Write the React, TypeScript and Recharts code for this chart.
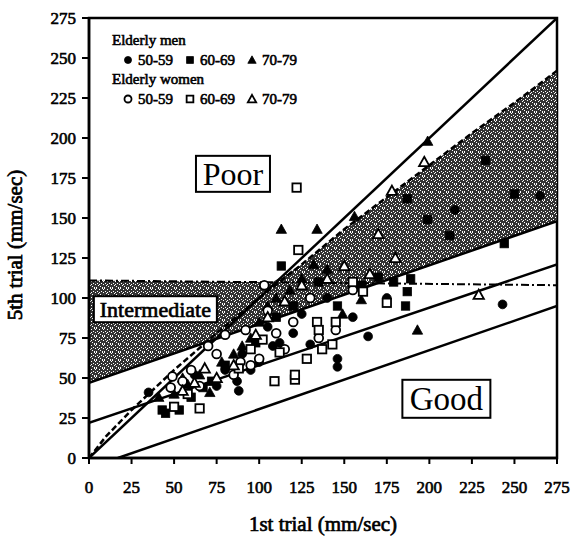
import React from "react"
import {
  ComposedChart,
  XAxis,
  YAxis,
  Scatter,
  Line,
  Area,
  ReferenceArea,
  ReferenceDot,
  Label,
  Legend,
} from "recharts"

const FONT = '"Liberation Serif", "Times New Roman", Times, serif'

const ticks = [0, 25, 50, 75, 100, 125, 150, 175, 200, 225, 250, 275]

// men
const men5059 = [
  { x: 35, y: 41 }, { x: 62, y: 52 }, { x: 75, y: 45 }, { x: 87, y: 48 }, { x: 88, y: 42 },
  { x: 95, y: 55 }, { x: 100, y: 60 }, { x: 108, y: 70 }, { x: 112, y: 72 }, { x: 120, y: 78 },
  { x: 130, y: 71 }, { x: 146, y: 62 }, { x: 146, y: 57 }, { x: 164, y: 76 }, { x: 175, y: 100 },
  { x: 243, y: 96 }, { x: 265, y: 164 }, { x: 215, y: 155 }, { x: 140, y: 100 }, { x: 125, y: 90 },
  { x: 90, y: 65 }, { x: 80, y: 55 }, { x: 105, y: 82 }, { x: 155, y: 88 },
]
const men6069 = [
  { x: 43, y: 30 }, { x: 53, y: 30 }, { x: 45, y: 28 }, { x: 60, y: 38 }, { x: 67, y: 44 },
  { x: 72, y: 48 }, { x: 80, y: 58 }, { x: 98, y: 72 }, { x: 110, y: 88 }, { x: 120, y: 95 },
  { x: 146, y: 95 }, { x: 186, y: 95 }, { x: 187, y: 104 }, { x: 189, y: 112 }, { x: 179, y: 110 },
  { x: 199, y: 149 }, { x: 187, y: 162 }, { x: 212, y: 139 }, { x: 233, y: 186 }, { x: 250, y: 165 },
  { x: 244, y: 134 }, { x: 135, y: 110 }, { x: 160, y: 108 }, { x: 170, y: 113 }, { x: 113, y: 120 },
]
const men7079 = [
  { x: 41, y: 38 }, { x: 50, y: 40 }, { x: 58, y: 46 }, { x: 65, y: 52 }, { x: 71, y: 41 },
  { x: 78, y: 60 }, { x: 85, y: 65 }, { x: 95, y: 75 }, { x: 100, y: 85 }, { x: 105, y: 95 },
  { x: 113, y: 143 }, { x: 134, y: 143 }, { x: 156, y: 151 }, { x: 199, y: 198 }, { x: 132, y: 121 },
  { x: 149, y: 90 }, { x: 160, y: 99 }, { x: 193, y: 80 }, { x: 118, y: 105 }, { x: 125, y: 112 },
  { x: 140, y: 118 }, { x: 110, y: 100 }, { x: 90, y: 70 }, { x: 55, y: 50 },
]
// women
const women5059 = [
  { x: 49, y: 51 }, { x: 55, y: 48 }, { x: 65, y: 45 }, { x: 70, y: 70 }, { x: 80, y: 77 },
  { x: 89, y: 60 }, { x: 75, y: 65 }, { x: 85, y: 52 }, { x: 95, y: 58 }, { x: 100, y: 62 },
  { x: 110, y: 78 }, { x: 115, y: 68 }, { x: 120, y: 85 }, { x: 105, y: 92 }, { x: 130, y: 100 },
  { x: 135, y: 75 }, { x: 145, y: 80 }, { x: 155, y: 105 }, { x: 48, y: 44 }, { x: 60, y: 55 },
  { x: 103, y: 108 }, { x: 92, y: 80 },
]
const women6069 = [
  { x: 65, y: 31 }, { x: 109, y: 48 }, { x: 121, y: 49 }, { x: 121, y: 52 }, { x: 102, y: 74 },
  { x: 123, y: 130 }, { x: 122, y: 169 }, { x: 134, y: 85 }, { x: 135, y: 80 }, { x: 137, y: 68 },
  { x: 143, y: 71 }, { x: 161, y: 104 }, { x: 175, y: 97 }, { x: 145, y: 85 }, { x: 155, y: 110 },
  { x: 95, y: 68 }, { x: 88, y: 56 }, { x: 50, y: 32 }, { x: 58, y: 40 }, { x: 112, y: 66 },
  { x: 128, y: 62 },
]
const women7079 = [
  { x: 178, y: 167 }, { x: 229, y: 102 }, { x: 197, y: 185 }, { x: 55, y: 42 }, { x: 62, y: 47 },
  { x: 68, y: 56 }, { x: 75, y: 50 }, { x: 85, y: 58 }, { x: 98, y: 77 }, { x: 105, y: 88 },
  { x: 115, y: 98 }, { x: 125, y: 108 }, { x: 140, y: 112 }, { x: 150, y: 120 }, { x: 165, y: 115 },
  { x: 170, y: 140 }, { x: 180, y: 125 },
]

// reference lines (read endpoints)
const identityLine = [{ x: 0, y: 0 }, { x: 275, y: 275 }]
const upperLine = [{ x: 0, y: 47 }, { x: 275, y: 148 }]
const midLine = [{ x: 0, y: 22 }, { x: 275, y: 121 }]
const lowLine = [{ x: 17, y: 0 }, { x: 275, y: 95 }]
const dashDotLine = [{ x: 0, y: 111 }, { x: 275, y: 108 }]
const dashedCurve = [
  { x: 0, y: 0 }, { x: 10, y: 13.5 }, { x: 25, y: 30 }, { x: 50, y: 55 }, { x: 75, y: 78 },
  { x: 100, y: 100 }, { x: 125, y: 121 }, { x: 150, y: 143 }, { x: 175, y: 163 },
  { x: 200, y: 183 }, { x: 225, y: 203 }, { x: 250, y: 222 }, { x: 275, y: 242 },
]

// shaded band
const bandX = [0, 25, 50, 75, 100, 108, 125, 150, 175, 200, 225, 250, 275]
const bandLow = [47, 56, 65.5, 74.5, 84, 86.5, 93, 102, 111, 120.5, 129.5, 139, 148]
const bandHigh = [111, 110.7, 110.5, 110.2, 110, 110, 121, 143, 163, 183, 203, 222, 242]
const band = bandX.map((x, i) => ({ x, band: [bandLow[i], bandHigh[i]] }))

// speckles for the stipple pattern
const speckles = [
  [0, 0], [3, 1], [6, 0], [1, 3], [5, 3], [7, 4], [2, 5], [4, 6], [0, 7], [6, 7], [3, 4], [7, 1],
]

type Kind = "circle" | "square" | "triangle"

function drawMarker(kind: Kind, filled: boolean, cx: number, cy: number, s = 1) {
  const fill = filled ? "#000" : "#fff"
  const sw = filled ? 0.8 : 1.8
  if (kind === "circle") return <circle cx={cx} cy={cy} r={4.4 * s} fill={fill} stroke="#000" strokeWidth={sw} />
  if (kind === "square")
    return <rect x={cx - 4.2 * s} y={cy - 4.2 * s} width={8.4 * s} height={8.4 * s} fill={fill} stroke="#000" strokeWidth={sw} />
  const h = 5.2 * s
  return (
    <polygon
      points={`${cx},${cy - h} ${cx + h},${cy + h * 0.8} ${cx - h},${cy + h * 0.8}`}
      fill={fill}
      stroke="#000"
      strokeWidth={sw}
    />
  )
}

const shape = (kind: Kind, filled: boolean) => (p: any) => drawMarker(kind, filled, p.cx, p.cy)

// serif text, thickened with a thin stroke
const boldText = { fontFamily: FONT, fontWeight: "normal", stroke: "#000", strokeWidth: 0.7, fill: "#000" }

const BoxText = (text: string, w: number, h: number, size: number, bold: boolean) => (p: any) => (
  <g>
    <rect x={p.cx - w / 2} y={p.cy - h / 2} width={w} height={h} fill="#fff" stroke="#000" strokeWidth={2} />
    <text
      x={p.cx}
      y={p.cy}
      textAnchor="middle"
      dominantBaseline="central"
      fontSize={size}
      style={bold ? boldText : { fontFamily: FONT }}
      fill="#000"
    >
      {text}
    </text>
  </g>
)

const legendRow = (filled: boolean) => (
  <div style={{ display: "flex", alignItems: "center", height: 19, paddingLeft: 10 }}>
    {(["circle", "square", "triangle"] as Kind[]).map((k, i) => (
      <span key={k} style={{ display: "flex", alignItems: "center", marginRight: 11 }}>
        <svg width={12} height={12}>{drawMarker(k, filled, 6, 6, 0.8)}</svg>
        <span style={{ marginLeft: 4 }}>{["50-59", "60-69", "70-79"][i]}</span>
      </span>
    ))}
  </div>
)

const renderLegend = () => (
  <div
    style={{
      fontFamily: FONT,
      fontWeight: "normal",
      fontSize: 15,
      color: "#000",
      lineHeight: "20px",
      WebkitTextStroke: "0.6px #000",
    }}
  >
    <div>Elderly men</div>
    {legendRow(true)}
    <div>Elderly women</div>
    {legendRow(false)}
  </div>
)

const tickStyle = { fill: "#000", fontSize: 17, stroke: "#000", strokeWidth: 0.6, style: { fontFamily: FONT } }

export default function App() {
  return (
    <div style={{ fontFamily: FONT }}>
      <style>{`body{margin:0}`}</style>
      <ComposedChart
        width={574}
        height={547}
        data={band}
        margin={{ top: 18, right: 17, bottom: 9, left: 29 }}
      >
        <defs>
          <pattern id="stipple" width="8" height="8" patternUnits="userSpaceOnUse">
            <rect width="8" height="8" fill="#333" />
            {speckles.map(([sx, sy], i) => (
              <rect key={i} x={sx} y={sy} width="1" height="1" fill="#fff" />
            ))}
          </pattern>
        </defs>
        <XAxis
          type="number"
          dataKey="x"
          domain={[0, 275]}
          ticks={ticks}
          allowDataOverflow
          height={80}
          tickSize={6}
          tickMargin={17}
          axisLine={{ stroke: "#000", strokeWidth: 2.5 }}
          tickLine={{ stroke: "#000", strokeWidth: 2 }}
          tick={tickStyle}
          interval={0}
        >
          <Label
            content={(p: any) => (
              <text
                x={p.viewBox.x + p.viewBox.width / 2}
                y={531}
                textAnchor="middle"
                fontSize={21}
                style={boldText}
              >
                1st trial (mm/sec)
              </text>
            )}
          />
        </XAxis>
        <YAxis
          type="number"
          dataKey="y"
          domain={[0, 275]}
          ticks={ticks}
          allowDataOverflow
          width={60}
          tickSize={7}
          tickMargin={6}
          axisLine={{ stroke: "#000", strokeWidth: 2.5 }}
          tickLine={{ stroke: "#000", strokeWidth: 2 }}
          tick={tickStyle}
          interval={0}
        >
          <Label
            content={() => (
              <text
                x={15}
                y={245}
                transform="rotate(-90 15 245)"
                textAnchor="middle"
                dominantBaseline="central"
                fontSize={21}
                style={boldText}
              >
                5th trial (mm/sec)
              </text>
            )}
          />
        </YAxis>
        <ReferenceArea x1={0} x2={275} y1={0} y2={275} fill="none" stroke="#000" strokeWidth={2.5} />
        <Area
          dataKey="band"
          type="linear"
          fill="url(#stipple)"
          fillOpacity={1}
          stroke="none"
          isAnimationActive={false}
        />
        <Line data={dashDotLine} dataKey="y" type="linear" stroke="#000" strokeWidth={2} strokeDasharray="8 3 2 3" dot={false} isAnimationActive={false} />
        <Line data={dashedCurve} dataKey="y" type="linear" stroke="#000" strokeWidth={2.5} strokeDasharray="6 3" dot={false} isAnimationActive={false} />
        <Line data={identityLine} dataKey="y" type="linear" stroke="#000" strokeWidth={2.5} dot={false} isAnimationActive={false} />
        <Line data={upperLine} dataKey="y" type="linear" stroke="#000" strokeWidth={2.5} dot={false} isAnimationActive={false} />
        <Line data={midLine} dataKey="y" type="linear" stroke="#000" strokeWidth={2.5} dot={false} isAnimationActive={false} />
        <Line data={lowLine} dataKey="y" type="linear" stroke="#000" strokeWidth={2.5} dot={false} isAnimationActive={false} />
        <Scatter data={men5059} dataKey="y" shape={shape("circle", true)} isAnimationActive={false} />
        <Scatter data={men6069} dataKey="y" shape={shape("square", true)} isAnimationActive={false} />
        <Scatter data={men7079} dataKey="y" shape={shape("triangle", true)} isAnimationActive={false} />
        <Scatter data={women5059} dataKey="y" shape={shape("circle", false)} isAnimationActive={false} />
        <Scatter data={women6069} dataKey="y" shape={shape("square", false)} isAnimationActive={false} />
        <Scatter data={women7079} dataKey="y" shape={shape("triangle", false)} isAnimationActive={false} />
        <ReferenceDot x={84.6} y={177.6} r={0} shape={BoxText("Poor", 74, 36, 32, false)} />
        <ReferenceDot x={39} y={93} r={0} shape={BoxText("Intermediate", 123, 26, 22, true)} />
        <ReferenceDot x={210} y={37} r={0} shape={BoxText("Good", 88, 38, 33, false)} />
        <Legend
          content={renderLegend}
          layout="vertical"
          align="center"
          verticalAlign="middle"
          wrapperStyle={{ position: "absolute", left: 112, top: 30, width: "auto", height: "auto" }}
        />
      </ComposedChart>
    </div>
  )
}
